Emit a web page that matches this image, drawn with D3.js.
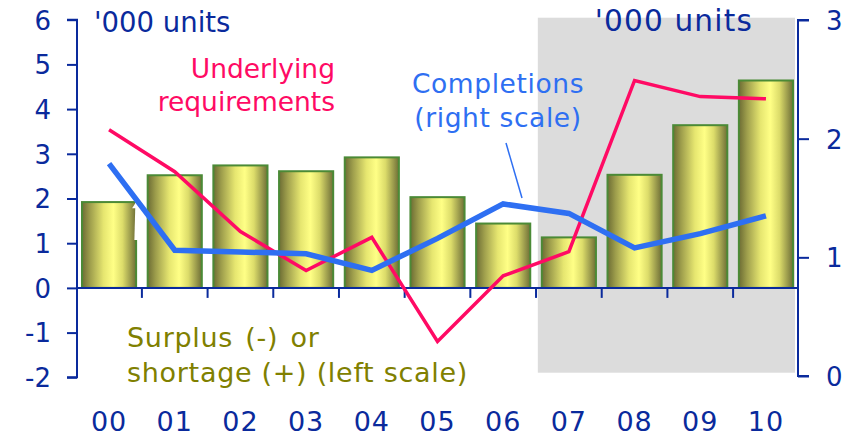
<!DOCTYPE html>
<html>
<head>
<meta charset="utf-8">
<script src="https://cdn.jsdelivr.net/npm/d3@7/dist/d3.min.js"></script>
<style>
  html, body { margin: 0; padding: 0; background: #fff; }
  svg { display: block; font-family: "DejaVu Sans", Verdana, sans-serif; }
</style>
</head>
<body>
<svg id="chart" width="861" height="438"></svg>
<script>
// Years (2000-2010)
const years = ["00", "01", "02", "03", "04", "05", "06", "07", "08", "09", "10"];
// Surplus (-) or shortage (+), '000 units, left scale
const shortage = [1.92, 2.52, 2.74, 2.61, 2.92, 2.03, 1.44, 1.13, 2.53, 3.64, 4.64];
// Underlying requirements, '000 units, left scale
const requirements = [3.54, 2.6, 1.26, 0.39, 1.13, -1.2, 0.27, 0.81, 4.64, 4.28, 4.23];
// Completions, '000 units, right scale
const completions = [1.79, 1.06, 1.045, 1.03, 0.89, 1.16, 1.45, 1.37, 1.08, 1.2, 1.35];
// Axis ticks
const leftTicks = [-2, -1, 0, 1, 2, 3, 4, 5, 6];
const rightTicks = [0, 1, 2, 3];
// Forecast years shaded
const forecastYears = ["07", "08", "09", "10"];

const axisColor = "#0a2a9c";
const pink = "#ff0a64";
const blue = "#2e6ff2";
const olive = "#808000";

const svg = d3.select("#chart");

const x = d3.scaleBand().domain(years).range([77, 798])
  .paddingInner(0.176).paddingOuter(0.076);
const yL = d3.scaleLinear().domain([-2, 6]).range([377.3, 19.7]);
const yR = d3.scaleLinear().domain([0, 3]).range([376, 20]);
const cx = d => x(d) + x.bandwidth() / 2;
const gap = x.step() - x.bandwidth();
const fmt = d => String(d);

// Bar gradient
const defs = svg.append("defs");
const grad = defs.append("linearGradient").attr("id", "barGrad")
  .attr("x1", "0%").attr("x2", "100%").attr("y1", "0%").attr("y2", "0%");
[[0, "#6c6c34"], [0.15, "#9e9e4c"], [0.4, "#e6e670"], [0.58, "#ffff86"],
 [0.75, "#dcdc6a"], [0.9, "#9a9a4c"], [1, "#6e6e36"]]
  .forEach(([o, c]) => grad.append("stop").attr("offset", o).attr("stop-color", c));

// Shaded forecast period
const shadeX0 = x(forecastYears[0]) - 4;
svg.append("rect")
  .attr("x", shadeX0)
  .attr("y", yR(3) - 2.3)
  .attr("width", 795 - shadeX0)
  .attr("height", yL(-2) - 4.6 - (yR(3) - 2.3))
  .attr("fill", "#dcdcdc");

// Bars
svg.append("g").selectAll("rect").data(years).join("rect")
  .attr("x", d => x(d))
  .attr("width", x.bandwidth())
  .attr("y", (d, i) => yL(shortage[i]))
  .attr("height", (d, i) => yL(0) - yL(shortage[i]))
  .attr("fill", "url(#barGrad)")
  .attr("stroke", "#4b8a36")
  .attr("stroke-width", 2);

// Small white arrow at the first bar
const arrX = x(years[0]) + x.bandwidth();
svg.append("line")
  .attr("x1", arrX).attr("y1", yL(1.07))
  .attr("x2", arrX + 1).attr("y2", yL(1.9))
  .attr("stroke", "#fff").attr("stroke-width", 3.5);
svg.append("path")
  .attr("d", `M${arrX - 4},${yL(1.78)} L${arrX + 1.5},${yL(1.98)} L${arrX + 6},${yL(1.78)} Z`)
  .attr("fill", "#fff");

// Left axis
const gL = svg.append("g").attr("transform", "translate(77,0)")
  .call(d3.axisLeft(yL).tickValues(leftTicks).tickSize(10).tickPadding(16).tickFormat(fmt));
gL.select(".domain").attr("stroke", axisColor).attr("stroke-width", 2).attr("d", `M-10,${yL(6)}H0V${yL(-2)}H-10`);
gL.selectAll(".tick line").attr("stroke", axisColor).attr("stroke-width", 2);
gL.selectAll(".tick text").attr("fill", axisColor).attr("font-size", 26)
  .attr("font-family", "DejaVu Sans").attr("dy", "0.36em");

// Right axis
const gR = svg.append("g").attr("transform", "translate(798,0)")
  .call(d3.axisRight(yR).tickValues(rightTicks).tickSize(11).tickPadding(17).tickFormat(fmt));
gR.select(".domain").attr("stroke", axisColor).attr("stroke-width", 2).attr("d", `M11,${yR(3)}H0V${yR(0)}H11`);
gR.selectAll(".tick line").attr("stroke", axisColor).attr("stroke-width", 2);
gR.selectAll(".tick text").attr("fill", axisColor).attr("font-size", 26)
  .attr("font-family", "DejaVu Sans").attr("dy", "0.36em");

// Category axis at zero
svg.append("line")
  .attr("x1", 77).attr("x2", 798).attr("y1", yL(0)).attr("y2", yL(0))
  .attr("stroke", axisColor).attr("stroke-width", 2);
svg.append("g").selectAll("line").data(years.slice(1)).join("line")
  .attr("x1", d => x(d) - gap / 2).attr("x2", d => x(d) - gap / 2)
  .attr("y1", yL(0)).attr("y2", yL(0) + 10)
  .attr("stroke", axisColor).attr("stroke-width", 2);
svg.append("g").selectAll("text").data(years).join("text")
  .attr("x", d => cx(d)).attr("y", 431)
  .attr("text-anchor", "middle")
  .attr("fill", axisColor).attr("font-size", 27)
  .attr("letter-spacing", 1)
  .text(d => d);

// Lines
const lineL = d3.line().x((d, i) => cx(years[i])).y(d => yL(d));
const lineR = d3.line().x((d, i) => cx(years[i])).y(d => yR(d));

svg.append("path").datum(requirements)
  .attr("d", lineL).attr("fill", "none")
  .attr("stroke", pink).attr("stroke-width", 3.5).attr("stroke-linejoin", "miter");

svg.append("path").datum(completions)
  .attr("d", lineR).attr("fill", "none")
  .attr("stroke", blue).attr("stroke-width", 5.5).attr("stroke-linejoin", "miter");

// Units labels
svg.append("text").attr("x", 94).attr("y", 32).attr("fill", axisColor)
  .attr("font-size", 27.5).text("'000 units");
svg.append("text").attr("x", 753).attr("y", 31).attr("text-anchor", "end").attr("fill", axisColor)
  .attr("font-size", 29.5).attr("letter-spacing", 1.2).text("'000 units");

// Series labels
const req = svg.append("text").attr("fill", pink).attr("font-size", 26.5).attr("text-anchor", "end");
req.append("tspan").attr("x", 335).attr("y", 78).text("Underlying");
req.append("tspan").attr("x", 335).attr("y", 111).text("requirements");

const comp = svg.append("text").attr("fill", blue).attr("font-size", 26.5)
  .attr("letter-spacing", 0.6).attr("text-anchor", "middle");
comp.append("tspan").attr("x", 498).attr("y", 93).text("Completions");
comp.append("tspan").attr("x", 498).attr("y", 127).text("(right scale)");
svg.append("line")
  .attr("x1", 506).attr("y1", 143).attr("x2", 522).attr("y2", 198)
  .attr("stroke", blue).attr("stroke-width", 1.5);

const sur = svg.append("text").attr("fill", olive).attr("font-size", 27).attr("letter-spacing", 0.7);
sur.append("tspan").attr("x", 127).attr("y", 347).attr("word-spacing", 3).text("Surplus (-) or");
sur.append("tspan").attr("x", 127).attr("y", 382).text("shortage (+) (left scale)");
</script>
</body>
</html>
